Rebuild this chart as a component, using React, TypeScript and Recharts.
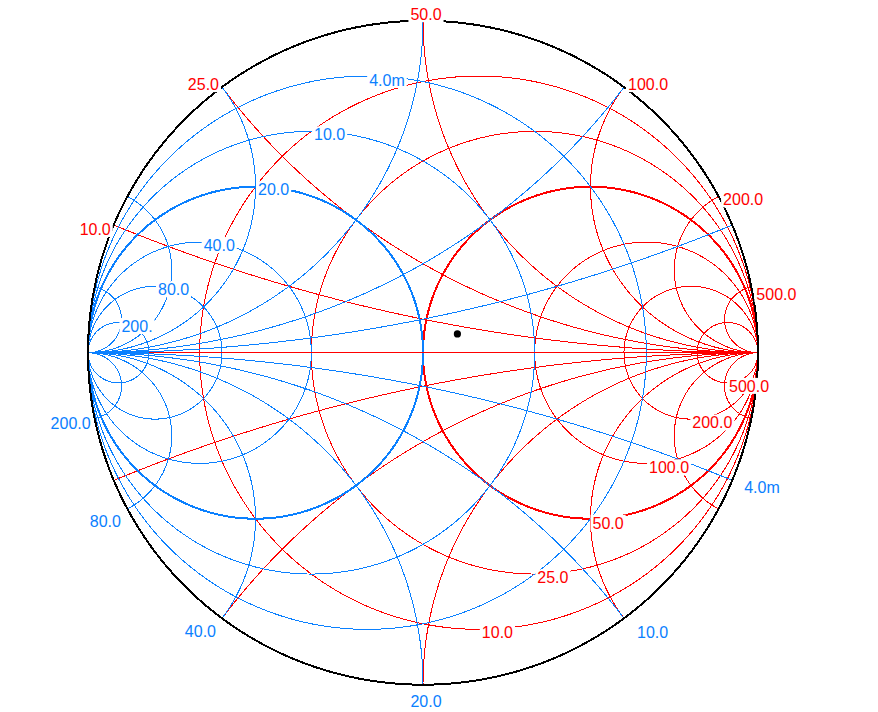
import { ComposedChart, Line, Scatter, XAxis, YAxis } from "recharts";

// reference impedance / admittance
const Z0 = 50; // ohm
const Y0 = 20; // mS

// impedance grid (ohm)
const RESISTANCE = [10, 25, 50, 100, 200, 500];
const REACTANCE = [10, 25, 50, 100, 200, 500];
const RESISTANCE_LABELS = ["10.0", "25.0", "50.0", "100.0", "200.0", "500.0"];
const REACTANCE_LABELS = ["10.0", "25.0", "50.0", "100.0", "200.0", "500.0"];

// admittance grid (mS)
const CONDUCTANCE = [4, 10, 20, 40, 80, 200];
const SUSCEPTANCE = [4, 10, 20, 40, 80, 200];
const CONDUCTANCE_LABELS = ["4.0m", "10.0", "20.0", "40.0", "80.0", "200."];
const SUSCEPTANCE_LABELS = ["4.0m", "10.0", "20.0", "40.0", "80.0", "200.0"];

// measured point (ohm)
const POINT_R = [61];
const POINT_X = [7];

// ---- layout ----
const W = 878;
const H = 712;
const CX = 423;
const CY = 352.7;
const RX = 335;
const RY = 332;
const RED = "#ff0000";
const BLUE = "#0a80ff";
const FONT = "'Liberation Sans', Arial, sans-serif";

// label placement relative to anchor point: [dx, dy, anchor]
type Place = [number, number, "start" | "middle" | "end"];
const REACTANCE_PLACE: Place[] = [
  [-3, 4, "end"],
  [-3, -3, "end"],
  [3, -6.5, "middle"],
  [4, -3, "start"],
  [4.5, 3, "start"],
  [5, 7, "start"],
];
const RESISTANCE_PLACE: Place[] = [
  [3, 3, "start"],
  [2.6, 3.5, "start"],
  [2, 4, "start"],
  [2.7, 4, "start"],
  [1.3, 3.4, "start"],
  [1.5, 3, "start"],
];
const CONDUCTANCE_PLACE: Place[] = [
  [2, 4, "start"],
  [2.7, 3, "start"],
  [2.5, 2.5, "start"],
  [4, 3, "start"],
  [3, 3, "start"],
  [3, 3.5, "start"],
];
const SUSCEPTANCE_PLACE: Place[] = [
  [12, 7, "start"],
  [13, 14, "start"],
  [3, 16.5, "middle"],
  [-6, 13, "end"],
  [-6.5, 12, "end"],
  [-4, 4.6, "end"],
];

type Pt = { x: number; y: number };

function arc(cx: number, cy: number, rad: number, a0: number, a1: number, n = 240): Pt[] {
  const pts: Pt[] = [];
  for (let i = 0; i <= n; i++) {
    const a = a0 + ((a1 - a0) * i) / n;
    pts.push({ x: cx + rad * Math.cos(a), y: cy + rad * Math.sin(a) });
  }
  return pts;
}

// constant resistance circle, normalized r
function rCircle(r: number): Pt[] {
  return arc(r / (1 + r), 0, 1 / (1 + r), 0, 2 * Math.PI, 360);
}

// constant reactance arc, normalized x (sign kept)
function xArc(x: number): Pt[] {
  const ax = Math.abs(x);
  const ex = (ax * ax - 1) / (ax * ax + 1);
  const ey = (2 * ax) / (ax * ax + 1);
  let a0 = Math.atan2(ey - 1 / ax, ex - 1);
  if (a0 < 0) a0 += 2 * Math.PI;
  const pts = arc(1, 1 / ax, 1 / ax, a0, 1.5 * Math.PI, 300);
  return x < 0 ? pts.map((p) => ({ x: p.x, y: -p.y })) : pts;
}

const flip = (pts: Pt[]) => pts.map((p) => ({ x: -p.x, y: -p.y }));

function gamma(r: number, x: number): Pt {
  // (z-1)/(z+1)
  const ar = r - 1;
  const br = r + 1;
  const d = br * br + x * x;
  return { x: (ar * br + x * x) / d, y: (x * br - ar * x) / d };
}

type Curve = { key: string; pts: Pt[]; color: string; width: number };

const redCurves: Curve[] = [];
RESISTANCE.forEach((v) =>
  redCurves.push({ key: `r${v}`, pts: rCircle(v / Z0), color: RED, width: v === Z0 ? 2 : 1 })
);
REACTANCE.forEach((v) => {
  redCurves.push({ key: `xp${v}`, pts: xArc(v / Z0), color: RED, width: 1 });
  redCurves.push({ key: `xn${v}`, pts: xArc(-v / Z0), color: RED, width: 1 });
});

const blueCurves: Curve[] = [];
CONDUCTANCE.forEach((v) =>
  blueCurves.push({ key: `g${v}`, pts: flip(rCircle(v / Y0)), color: BLUE, width: v === Y0 ? 2 : 1 })
);
SUSCEPTANCE.forEach((v) => {
  blueCurves.push({ key: `bp${v}`, pts: flip(xArc(-v / Y0)), color: BLUE, width: 1 });
  blueCurves.push({ key: `bn${v}`, pts: flip(xArc(v / Y0)), color: BLUE, width: 1 });
});

const gMax = Math.max(...CONDUCTANCE) / Y0;
const axisCurves: Curve[] = [
  { key: "axisR", pts: [{ x: -1, y: 0 }, { x: 1, y: 0 }], color: RED, width: 1 },
  { key: "axisB", pts: [{ x: -1, y: 0 }, { x: (1 - gMax) / (1 + gMax), y: 0 }], color: BLUE, width: 1 },
  { key: "outer", pts: rCircle(0), color: "#000", width: 2 },
];

type LabelDatum = Pt & { text: string; color: string; dx: number; dy: number; anchor: string };
const labels: LabelDatum[] = [];
REACTANCE.forEach((v, i) => {
  const p = gamma(0, v / Z0);
  const [dx, dy, anchor] = REACTANCE_PLACE[i];
  labels.push({ ...p, text: REACTANCE_LABELS[i], color: RED, dx, dy, anchor });
});
RESISTANCE.forEach((v, i) => {
  const r = v / Z0;
  const [dx, dy, anchor] = RESISTANCE_PLACE[i];
  labels.push({ x: r / (1 + r), y: -1 / (1 + r), text: RESISTANCE_LABELS[i], color: RED, dx, dy, anchor });
});
CONDUCTANCE.forEach((v, i) => {
  const g = v / Y0;
  const [dx, dy, anchor] = CONDUCTANCE_PLACE[i];
  labels.push({ x: -g / (1 + g), y: 1 / (1 + g), text: CONDUCTANCE_LABELS[i], color: BLUE, dx, dy, anchor });
});
SUSCEPTANCE.forEach((v, i) => {
  const p = gamma(0, v / Y0);
  const [dx, dy, anchor] = SUSCEPTANCE_PLACE[i];
  labels.push({ x: -p.x, y: -p.y, text: SUSCEPTANCE_LABELS[i], color: BLUE, dx, dy, anchor });
});

const points = POINT_R.map((r, i) => gamma(r / Z0, POINT_X[i] / Z0));

const CHAR_W: Record<string, number> = { ".": 4.45, m: 13.3 };
const textWidth = (s: string) => s.split("").reduce((a, c) => a + (CHAR_W[c] ?? 8.9), 0);

function LabelMark(props: any) {
  const { cx, cy, payload } = props;
  const d = payload as LabelDatum;
  const w = textWidth(d.text);
  const x = cx + d.dx;
  const yc = cy + d.dy;
  const left = d.anchor === "start" ? x : d.anchor === "end" ? x - w : x - w / 2;
  return (
    <g>
      <rect x={left - 2} y={yc - 8} width={w + 4} height={16} fill="#fff" />
      <text
        x={x}
        y={yc + 5.8}
        textAnchor={d.anchor as any}
        fill={d.color}
        fontSize={16}
        fontFamily={FONT}
      >
        {d.text}
      </text>
    </g>
  );
}

function Dot(props: any) {
  return <circle cx={props.cx} cy={props.cy} r={3.6} fill="#000" />;
}

export default function App() {
  const all = [...redCurves, ...blueCurves, ...axisCurves];
  return (
    <div style={{ position: "absolute", left: 0, top: 0, width: W, height: H, background: "#fff" }}>
      <ComposedChart width={W} height={H} margin={{ top: 0, right: 0, bottom: 0, left: 0 }}>
        <XAxis
          type="number"
          dataKey="x"
          domain={[-CX / RX, (W - CX) / RX]}
          allowDataOverflow
          hide
        />
        <YAxis
          type="number"
          dataKey="y"
          domain={[-(H - CY) / RY, CY / RY]}
          allowDataOverflow
          hide
        />
        {all.map((c) => (
          <Line
            key={c.key}
            data={c.pts}
            dataKey="y"
            type="linear"
            stroke={c.color}
            strokeWidth={c.width}
            dot={false}
            activeDot={false}
            isAnimationActive={false}
            shapeRendering="crispEdges"
          />
        ))}
        <Scatter data={labels} shape={(p: any) => <LabelMark {...p} />} isAnimationActive={false} />
        <Scatter data={points} shape={(p: any) => <Dot {...p} />} isAnimationActive={false} />
      </ComposedChart>
    </div>
  );
}
